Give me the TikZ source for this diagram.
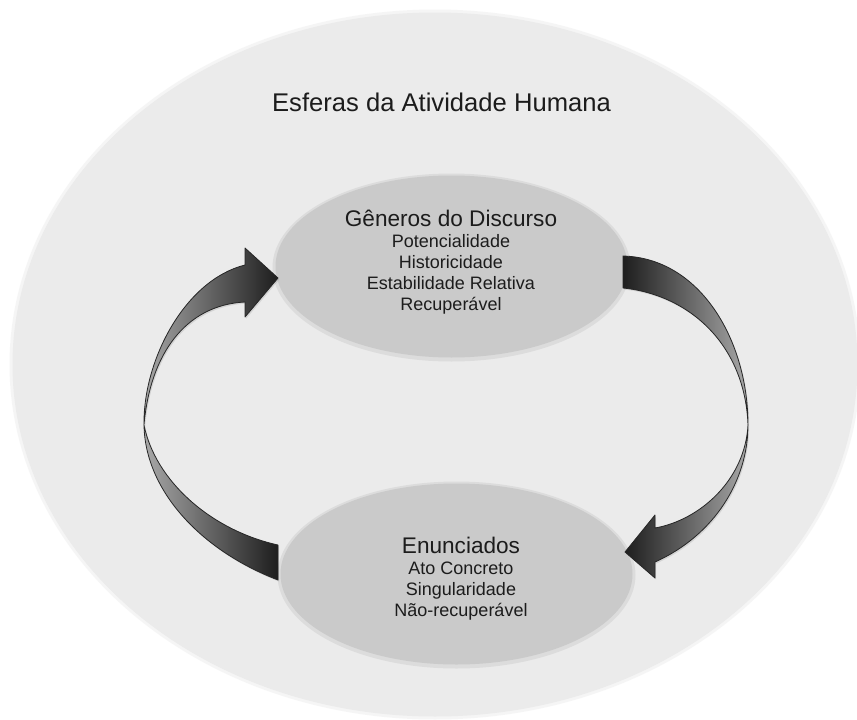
\documentclass[tikz,border=0pt]{standalone}
\usepackage{fontspec}
\setmainfont{Liberation Sans}
\usetikzlibrary{shapes.geometric,shadows}
\definecolor{sphere}{RGB}{235,235,235}
\definecolor{genre}{RGB}{202,202,202}
\definecolor{ink}{RGB}{28,28,28}
\definecolor{ribbonlight}{RGB}{168,168,168}
\definecolor{ribbondark}{RGB}{30,30,30}
\begin{document}
\begin{tikzpicture}[x=1pt,y=-1pt,
  bubble/.style={ellipse, fill=genre, inner sep=0pt},
  halo/.style={ellipse, inner sep=0pt, fill opacity=0.45},
  blurb/.style={align=center, text=ink, inner sep=0pt,
    font=\fontsize{18}{21}\selectfont},
  ribbon/.style={draw=black!85, line width=0.8pt, line join=round,
    drop shadow={opacity=0.22, shadow xshift=1.2pt, shadow yshift=-1.6pt}},
  ribbonL/.style={ribbon, left color=ribbonlight, right color=ribbondark},
  ribbonR/.style={ribbon, left color=ribbondark, right color=ribbonlight}]

\useasboundingbox (0,0) rectangle (857,720);
\fill[white] (0,0) rectangle (857,720);

% outer sphere of human activity, with a soft rim
\node[halo, fill=sphere, minimum width=851pt, minimum height=710pt] (esferasrim) at (435,364.5) {};
\node[ellipse, fill=sphere, inner sep=0pt,
      minimum width=845pt, minimum height=704pt] (esferas) at (435,364.5) {};
\node[text=ink, inner sep=0pt, font=\fontsize{25.6}{30}\selectfont]
      (titulo) at (441.5,102) {Esferas da Atividade Humana};

% the two inner ellipses, each with a soft rim
\node[halo, fill=genre, minimum width=358pt, minimum height=188pt] (generosrim) at (451.5,267.5) {};
\node[halo, fill=genre, minimum width=358pt, minimum height=187pt] (enunciadosrim) at (456.5,575) {};
\node[bubble, minimum width=352pt, minimum height=182pt] (generos) at (451.5,266.5) {};
\node[bubble, minimum width=352pt, minimum height=181pt] (enunciados) at (456.5,574) {};

\node[blurb, anchor=north] (generostxt) at (451,209.5)
  {{\fontsize{22.6}{21}\selectfont Gêneros do Discurso}\\
   Potencialidade\\ Historicidade\\ Estabilidade Relativa\\ Recuperável};
\node[blurb, anchor=north] (enunciadostxt) at (461,537)
  {{\fontsize{22.6}{21}\selectfont Enunciados}\\
   Ato Concreto\\ Singularidade\\ Não-recuperável};

% left twisted arrow: from Enunciados up to Gêneros
\coordinate (ltwist) at (144,425);
\path[ribbonL] (ltwist) .. controls (145,490) and (200,550) .. (278,580)
  -- (278,545) .. controls (210,530) and (155,480) .. (ltwist) -- cycle;
\path[ribbonL] (ltwist) .. controls (143,360) and (185,280) .. (245,265)
  -- (245,248) -- (278,278) -- (245,317) -- (245,302)
  .. controls (185,305) and (150,355) .. (ltwist) -- cycle;

% right twisted arrow: from Gêneros down to Enunciados
\coordinate (rtwist) at (748,425);
\path[ribbonR] (623,256) .. controls (700,258) and (748,340) .. (rtwist)
  .. controls (745,345) and (690,295) .. (623,288) -- cycle;
\path[ribbonR] (rtwist) .. controls (748,480) and (715,535) .. (655,562)
  -- (655,578) -- (625,552) -- (655,515) -- (655,528)
  .. controls (700,520) and (745,480) .. (rtwist) -- cycle;
\end{tikzpicture}
\end{document}
